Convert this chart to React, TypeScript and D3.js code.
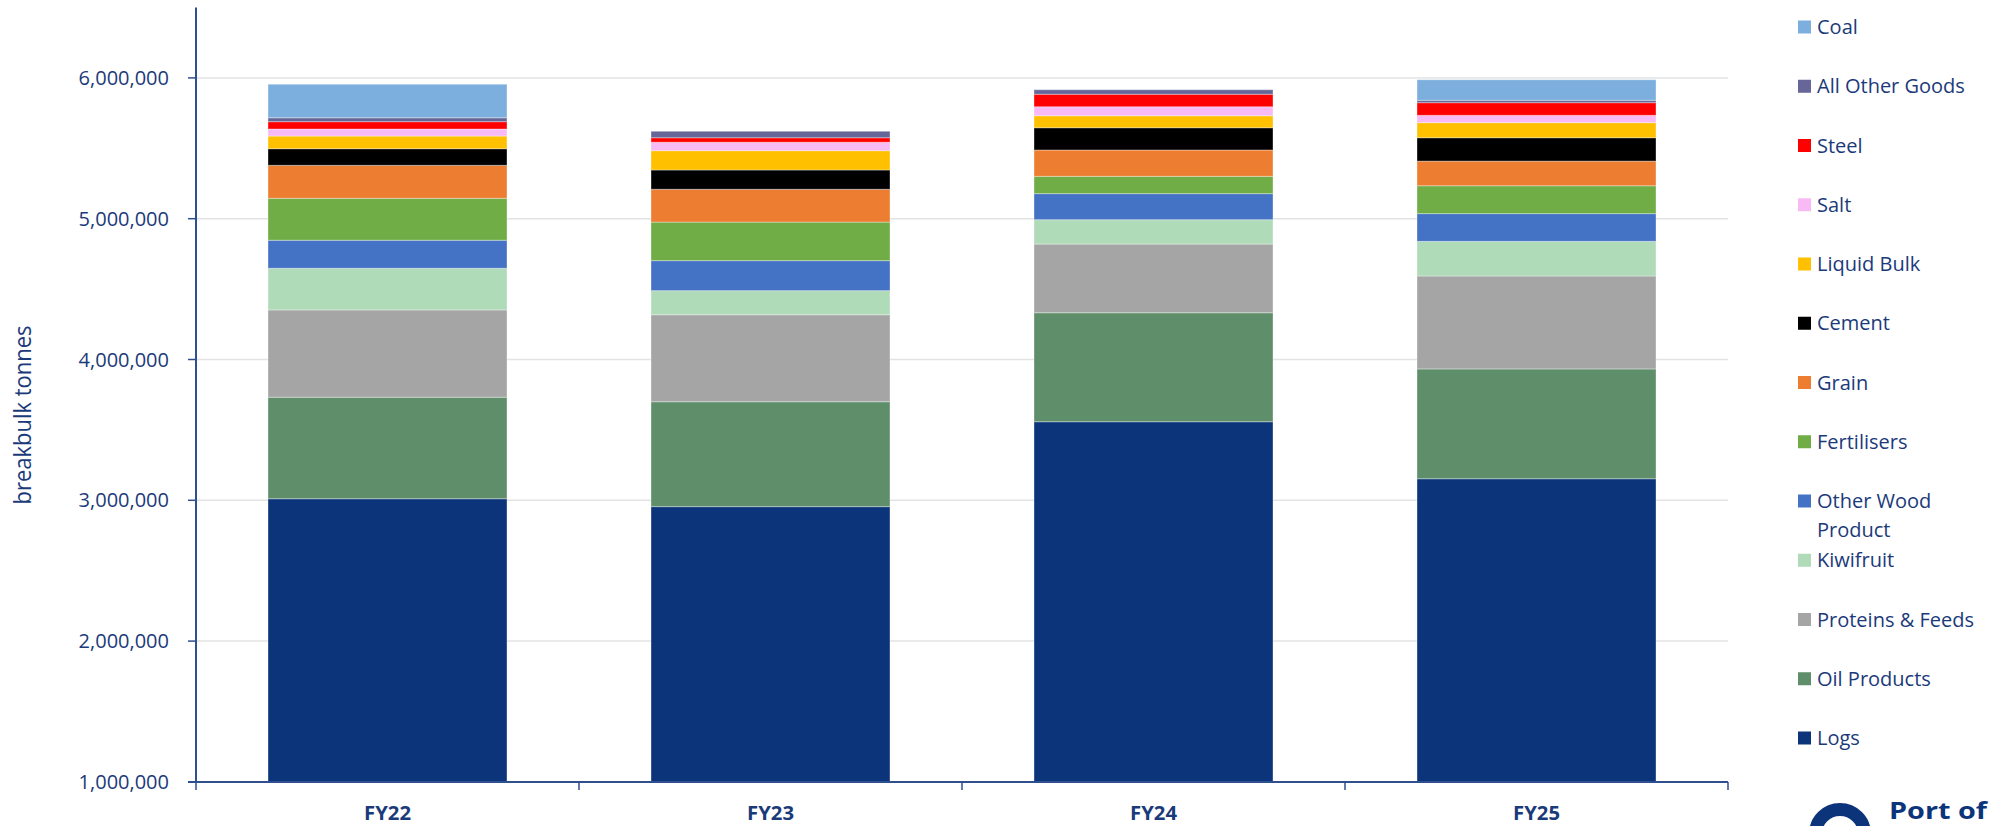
import React from "react";
import * as d3 from "d3";

const categories = ["FY22", "FY23", "FY24", "FY25"];
const logs = [3011000, 2955000, 3558000, 3153000];
const oilProducts = [721000, 745000, 774000, 780000];
const proteinsFeeds = [620000, 618000, 488000, 660000];
const kiwifruit = [296000, 171000, 173000, 246000];
const otherWood = [199000, 213000, 185000, 197000];
const fertilisers = [298000, 274000, 123000, 198000];
const grain = [234000, 233000, 187000, 175000];
const cement = [118000, 137000, 158000, 166000];
const liquidBulk = [90000, 137000, 85000, 107000];
const salt = [50000, 60000, 64000, 52000];
const steel = [52000, 32000, 89000, 90000];
const allOtherGoods = [28000, 46000, 32000, 17000];
const coal = [238000, 0, 0, 146000];

const seriesNames = [
  "Logs", "Oil Products", "Proteins & Feeds", "Kiwifruit", "Other Wood Product",
  "Fertilisers", "Grain", "Cement", "Liquid Bulk", "Salt", "Steel", "All Other Goods", "Coal",
];
const seriesValues = [
  logs, oilProducts, proteinsFeeds, kiwifruit, otherWood, fertilisers, grain,
  cement, liquidBulk, salt, steel, allOtherGoods, coal,
];
const seriesColors = [
  "#0B347A", "#5F8E6B", "#A5A5A5", "#B0DBB9", "#4472C4", "#70AD47", "#ED7D31",
  "#000000", "#FFC000", "#F7BAF4", "#FF0000", "#666699", "#7CAFDD",
];
const yTicks = [1000000, 2000000, 3000000, 4000000, 5000000, 6000000];
const legendLines: Record<string, string[]> = { "Other Wood Product": ["Other Wood", "Product"] };

const W = 1998, H = 826;
const left = 196, right = 1728, top = 7.5, bottom = 781.9;
const textColor = "#1B3A7A";
const axisColor = "#2F4F8F";
const font = "'Open Sans', sans-serif";

export default function App() {
  const rows = categories.map((c, i) => {
    const r: any = { cat: c };
    seriesNames.forEach((s, k) => (r[s] = seriesValues[k][i]));
    return r;
  });
  const stacked = d3.stack().keys(seriesNames)(rows);
  const x = d3.scaleBand().domain(categories).range([left, right]).paddingInner(0.376).paddingOuter(0.188);
  const y = d3.scaleLinear().domain([1000000, 6500000]).range([bottom, top]);
  const fmt = d3.format(",");
  const step = x.step();
  const boundaries = d3.range(categories.length + 1).map((i) => left + i * step);
  const legendTop = 27, legendGap = 59.25;

  return (
    <div style={{ position: "absolute", left: 0, top: 0, width: W, height: H, background: "#fff" }}>
      <svg width={W} height={H} style={{ display: "block", fontFamily: font }}>
        {yTicks.slice(1).map((t) => (
          <line key={t} x1={left} x2={right} y1={y(t)} y2={y(t)} stroke="#E3E3E3" strokeWidth={1.5} />
        ))}
        {stacked.map((s, k) => (
          <g key={s.key} fill={seriesColors[k]}>
            {s.map((d, i) => {
              const y0 = Math.max(d[0], 1000000);
              const y1 = d[1];
              if (y1 - d[0] <= 0) return null;
              return (
                <rect key={i} x={x(categories[i])} width={x.bandwidth()} y={y(y1)} height={y(y0) - y(y1)}
                  stroke="#ffffff" strokeOpacity={0.35} strokeWidth={1} />
              );
            })}
          </g>
        ))}
        <line x1={left} x2={left} y1={top} y2={bottom} stroke={axisColor} strokeWidth={2} />
        <line x1={left - 8} x2={right} y1={bottom} y2={bottom} stroke={axisColor} strokeWidth={2} />
        {yTicks.map((t) => (
          <g key={t}>
            <line x1={left - 8} x2={left} y1={y(t)} y2={y(t)} stroke={axisColor} strokeWidth={1.5} />
            <text x={169} y={y(t)} dy="0.35em" textAnchor="end" fontSize={20} fill={textColor}>{fmt(t)}</text>
          </g>
        ))}
        {boundaries.map((bx, i) => (
          <line key={i} x1={bx} x2={bx} y1={bottom} y2={bottom + 8} stroke={axisColor} strokeWidth={1.5} />
        ))}
        {categories.map((c) => (
          <text key={c} x={(x(c) as number) + x.bandwidth() / 2} y={813} dy="0.35em" textAnchor="middle"
            fontSize={20} fontWeight={700} fill={textColor} textLength={47}
            lengthAdjust="spacingAndGlyphs">{c}</text>
        ))}
        <text transform={`translate(23,415) rotate(-90)`} textAnchor="middle" dy="0.35em" fontSize={24}
          fill={textColor} textLength={179} lengthAdjust="spacingAndGlyphs">breakbulk tonnes</text>
        {[...seriesNames].reverse().map((name, i) => {
          const k = seriesNames.indexOf(name);
          const cy = legendTop + i * legendGap;
          const lines = legendLines[name] || [name];
          return (
            <g key={name}>
              <rect x={1798} y={cy - 6.5} width={13} height={13} fill={seriesColors[k]} />
              {lines.map((ln, j) => (
                <text key={j} x={1817} y={cy + j * 29} dy="0.35em" fontSize={20} fill={textColor}>{ln}</text>
              ))}
            </g>
          );
        })}
        <g>
          <circle cx={1840} cy={834} r={24.5} fill="none" stroke="#0B347A" strokeWidth={13} />
          <text x={1889} y={819} fontSize={24} fontWeight={700} fill="#0B347A" textLength={98}
            lengthAdjust="spacingAndGlyphs">Port of</text>
        </g>
      </svg>
    </div>
  );
}
